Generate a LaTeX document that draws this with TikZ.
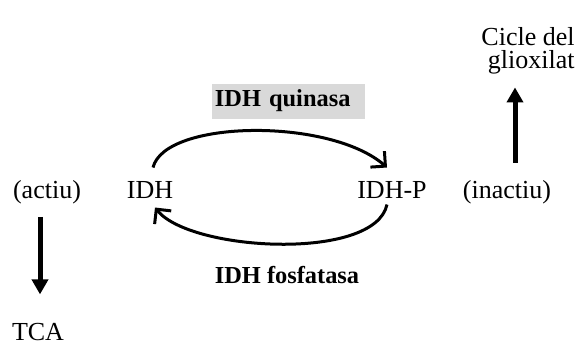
\documentclass[tikz,border=0pt]{standalone}
\usepackage{fontspec}
\setmainfont{Liberation Serif}
\usetikzlibrary{arrows.meta,calc}

\begin{document}
\begin{tikzpicture}[x=0.5pt,y=-0.5pt,
    lbl/.style={inner sep=0pt,anchor=base,font=\fontsize{13}{11.5}\selectfont},
    enz/.style={inner sep=0pt,font=\fontsize{12.2}{14}\selectfont\bfseries},
    cyc/.style={line width=1.5pt,-{Straight Barb[angle=90:7.5pt]}},
    bigarrow/.style={line width=2.5pt,-{Triangle[width=8pt,length=7.5pt]}}]
    \useasboundingbox (0,0) rectangle (580,343);
    \node[lbl] (actiu) at (47,198) {(actiu)};
    \node[lbl] (idh) at (150,198) {IDH};
    \node[lbl] (idhp) at (392,198) {IDH-P};
    \node[lbl] (inactiu) at (507,198) {(inactiu)};
    \node[lbl,align=right,anchor=north east] (cicle) at (575,27) {Cicle del\\glioxilat};
    \node[lbl] (tca) at (38,340) {TCA};
    \node[enz,fill=gray!30,anchor=west,text width=74pt,inner xsep=1.25pt,align=left,minimum height=17.5pt] (quinasa) at (212,101) {IDH quinasa};
    \node[enz,anchor=base] (fosfatasa) at (287,283) {IDH fosfatasa};
    \draw[cyc] ([shift={(3,-22)}]idh.center) .. controls +(12,-48) and +(-57,-50) .. ([shift={(-5,-22)}]idhp.center);
    \draw[cyc] ([shift={(-5,15)}]idhp.center) .. controls +(-12,57) and +(35,44) .. ([shift={(5,18)}]idh.center);
    \draw[bigarrow,shorten <=6.5pt,shorten >=14pt] ([xshift=-3.5pt]actiu.south) -- ([xshift=-3.5pt]actiu.south |- tca.north);
    \draw[bigarrow,shorten <=8.5pt,shorten >=6.5pt] ([xshift=4pt]inactiu.north) -- ([xshift=4pt]inactiu.north |- cicle.south);
\end{tikzpicture}
\end{document}
